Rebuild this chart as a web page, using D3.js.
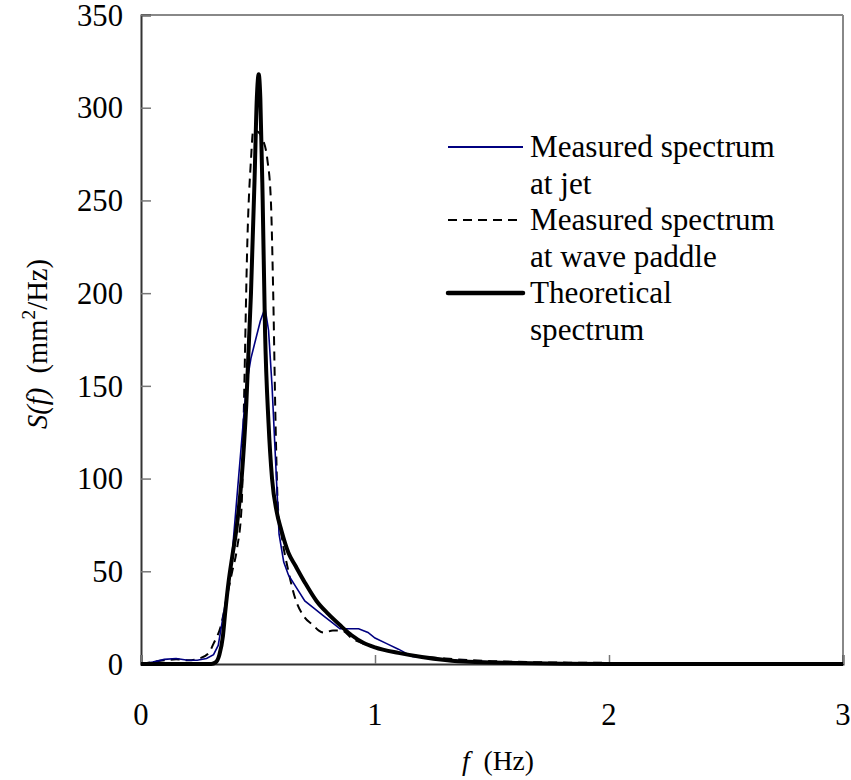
<!DOCTYPE html>
<html>
<head>
<meta charset="utf-8">
<script src="https://cdn.jsdelivr.net/npm/d3@7"></script>
<style>
  body { margin: 0; background: #fff; }
</style>
</head>
<body>
<script>
// frequency (Hz) and spectral density S(f) (mm^2/Hz)
const fTheo = [0, 0.30, 0.32, 0.335, 0.35, 0.36, 0.375, 0.39, 0.41, 0.43, 0.45, 0.47, 0.485, 0.495, 0.503, 0.51, 0.52, 0.53, 0.545, 0.56, 0.58, 0.60, 0.63, 0.66, 0.70, 0.75, 0.80, 0.85, 0.90, 0.95, 1.00, 1.10, 1.20, 1.30, 1.40, 1.60, 1.80, 2.00, 3.00];
const sTheo = [0, 0, 1, 5, 15, 28, 45, 58, 75, 100, 140, 200, 260, 305, 318, 305, 250, 180, 130, 100, 82, 72, 60, 53, 44, 34, 27, 21, 15.5, 11.5, 9, 6, 3.8, 2.2, 1.2, 0.6, 0.2, 0, 0];

const fJet = [0, 0.05, 0.10, 0.15, 0.20, 0.24, 0.28, 0.31, 0.33, 0.35, 0.37, 0.39, 0.41, 0.43, 0.45, 0.47, 0.49, 0.51, 0.53, 0.545, 0.56, 0.575, 0.59, 0.61, 0.63, 0.66, 0.70, 0.74, 0.78, 0.82, 0.85, 0.88, 0.93, 0.97, 1.00, 1.05, 1.10, 1.16, 1.25, 1.35, 1.50, 1.70, 2.00, 2.50, 3.00];
const sJet = [0, 1, 2.5, 3, 2, 2, 3, 5, 10, 25, 40, 60, 90, 120, 150, 165, 175, 185, 192, 180, 150, 110, 70, 55, 48, 42, 34, 30, 26, 22, 19, 19, 19, 17, 14, 11, 8, 4, 3, 2, 1, 0.5, 0.3, 0.2, 0.1];

const fPaddle = [0, 0.10, 0.15, 0.20, 0.25, 0.29, 0.31, 0.34, 0.37, 0.39, 0.41, 0.43, 0.44, 0.455, 0.47, 0.48, 0.50, 0.52, 0.54, 0.555, 0.565, 0.575, 0.585, 0.60, 0.63, 0.66, 0.70, 0.735, 0.76, 0.78, 0.82, 0.86, 0.90, 0.95, 1.00, 1.10, 1.20, 1.30, 1.50, 2.00, 2.50, 3.00];
const sPaddle = [0, 2, 2.5, 2, 3, 6, 11, 20, 38, 50, 62, 85, 140, 230, 272, 288, 287, 283, 272, 250, 200, 130, 85, 70, 50, 35, 25, 21, 18, 17, 18, 18, 14, 11, 9, 6, 4, 3, 1.5, 0.6, 0.5, 0.4];

const xTicks = [0, 1, 2, 3];
const yTicks = [0, 50, 100, 150, 200, 250, 300, 350];

const legendLabels = [
  ["Measured spectrum", "at jet"],
  ["Measured spectrum", "at wave paddle"],
  ["Theoretical", "spectrum"]
];

const width = 851, height = 780;
const plotLeft = 141, plotRight = 843, plotTop = 15, plotBottom = 664;
const serif = "'Liberation Serif', 'Times New Roman', 'DejaVu Serif', serif";

const svg = d3.select("body").append("svg")
  .attr("width", width)
  .attr("height", height)
  .attr("font-family", serif);

// the serif face available may be wider than Times: scale sizes so widths match
const probe = svg.append("text").attr("font-size", 30).text("Measured spectrum");
const k = 241 / probe.node().getComputedTextLength();
probe.remove();
const fs = s => s * 30 / 30.5 * k * 30.5 / 30;

const x = d3.scaleLinear().domain([0, 3]).range([plotLeft, plotRight]);
const y = d3.scaleLinear().domain([0, 350]).range([plotBottom, plotTop]);

// frame: top and right in grey
svg.append("line").attr("x1", plotLeft).attr("x2", plotRight).attr("y1", plotTop).attr("y2", plotTop)
  .attr("stroke", "#888").attr("stroke-width", 2);
svg.append("line").attr("x1", plotRight).attr("x2", plotRight).attr("y1", plotTop).attr("y2", plotBottom)
  .attr("stroke", "#888").attr("stroke-width", 2);

// axes with inward ticks
const yAxis = svg.append("g")
  .attr("transform", `translate(${plotLeft},0)`)
  .call(d3.axisRight(y).tickValues(yTicks).tickSize(10).tickFormat(""));
yAxis.select(".domain").attr("stroke", "#333").attr("stroke-width", 2);
yAxis.selectAll(".tick line").attr("stroke", "#777").attr("stroke-width", 1.5);

const xAxis = svg.append("g")
  .attr("transform", `translate(0,${plotBottom})`)
  .call(d3.axisTop(x).tickValues(xTicks).tickSize(9).tickFormat(""));
xAxis.select(".domain").attr("stroke", "#333").attr("stroke-width", 2);
xAxis.selectAll(".tick line").attr("stroke", "#777").attr("stroke-width", 1.5);

svg.selectAll(".ylab").data(yTicks).enter().append("text")
  .attr("x", plotLeft - 18)
  .attr("y", d => y(d))
  .attr("dy", "0.35em")
  .attr("text-anchor", "end")
  .attr("font-size", fs(30))
  .text(d => d);

svg.selectAll(".xlab").data(xTicks).enter().append("text")
  .attr("x", d => x(d))
  .attr("y", 725)
  .attr("text-anchor", "middle")
  .attr("font-size", fs(30))
  .text(d => d);

// axis titles
const xt = svg.append("text")
  .attr("x", 498).attr("y", 770)
  .attr("text-anchor", "middle")
  .attr("font-size", fs(27));
xt.append("tspan").attr("font-style", "italic").text("f");
xt.append("tspan").text("\u00a0\u00a0(Hz)");

const yt = svg.append("text")
  .attr("transform", "translate(47,344) rotate(-90)")
  .attr("text-anchor", "middle")
  .attr("font-size", fs(28));
yt.append("tspan").attr("font-style", "italic").text("S(f)");
yt.append("tspan").text("\u00a0\u00a0(mm");
yt.append("tspan").attr("font-size", fs(19)).attr("dy", -12).text("2");
yt.append("tspan").attr("dy", 12).text("/Hz)");

// series
const line = d3.line().x(d => x(d[0])).y(d => y(d[1]));
const smooth = d3.line().x(d => x(d[0])).y(d => y(d[1])).curve(d3.curveMonotoneX);

const plot = svg.append("g");
plot.append("path")
  .datum(d3.zip(fPaddle, sPaddle))
  .attr("d", smooth)
  .attr("fill", "none")
  .attr("stroke", "#000")
  .attr("stroke-width", 2)
  .attr("stroke-dasharray", "9,6");

plot.append("path")
  .datum(d3.zip(fJet, sJet))
  .attr("d", line)
  .attr("fill", "none")
  .attr("stroke", "#000080")
  .attr("stroke-width", 1.6);

plot.append("path")
  .datum(d3.zip(fTheo, sTheo))
  .attr("d", smooth)
  .attr("fill", "none")
  .attr("stroke", "#000")
  .attr("stroke-width", 4)
  .attr("stroke-linejoin", "round");

// legend
const legendY = [147, 220, 293];
const legendStyle = [
  { stroke: "#000080", w: 2, dash: null },
  { stroke: "#000", w: 2, dash: "9,6" },
  { stroke: "#000", w: 4.5, dash: null }
];
legendLabels.forEach((lab, i) => {
  const ly = legendY[i];
  svg.append("line")
    .attr("x1", 448).attr("x2", 523).attr("y1", ly).attr("y2", ly)
    .attr("stroke", legendStyle[i].stroke)
    .attr("stroke-width", legendStyle[i].w)
    .attr("stroke-linecap", i === 2 ? "round" : "butt")
    .attr("stroke-dasharray", legendStyle[i].dash);
  lab.forEach((t, j) => {
    svg.append("text")
      .attr("x", 530)
      .attr("y", ly + 10 + j * 36.5)
      .attr("font-size", fs(30.5))
      .text(t);
  });
});
</script>
</body>
</html>
